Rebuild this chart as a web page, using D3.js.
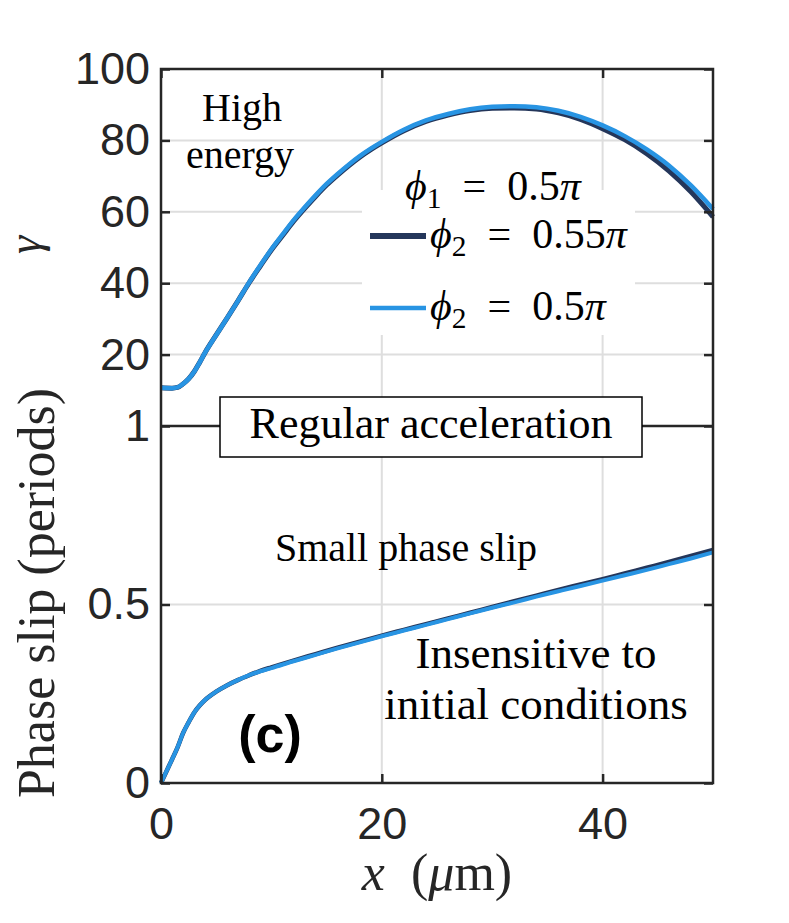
<!DOCTYPE html>
<html><head><meta charset="utf-8">
<script src="https://cdn.jsdelivr.net/npm/d3@7"></script>
<style>body{margin:0;background:#fff}</style></head>
<body><svg id="c" width="789" height="923"></svg>
<script>
// ---- data ----
const gammaX = [0,1,1.5,2,2.5,3,3.5,4,5,6,7,8,9,10,11,12,13,14,15,16,17,18,19,20,22,24,26,28,30,32,34,36,38,40,42,44,46,48,50];
const gammaLight = [10.7,10.6,10.8,11.8,13.2,15.2,17.8,20.6,25.5,30.3,35.2,40.3,45,49.5,53.6,57.6,61.2,64.6,67.8,70.6,73.2,75.6,77.7,79.6,83,85.6,87.4,88.7,89.4,89.6,89.3,88.3,86.6,84.2,81.2,77.5,73,67.4,60.8];
const gammaDark  = [10.7,10.6,10.8,11.8,13.2,15.2,17.8,20.6,25.5,30.3,35.2,40.2,44.8,49.3,53.3,57.3,60.9,64.3,67.5,70.3,72.9,75.3,77.4,79.3,82.7,85.3,87.1,88.4,89.0,89.1,88.8,87.7,85.9,83.3,80.2,76.3,71.5,65.6,58.6];
const slipX = [0,0.5,1,1.5,2,2.5,3,3.5,4,5,6,7,8,9,10,12,14,16,18,20,22,24,26,28,30,32,34,36,38,40,42,44,46,48,50];
const slipLight = [0,0.033,0.066,0.1,0.14,0.17,0.197,0.217,0.233,0.256,0.274,0.289,0.302,0.313,0.322,0.341,0.359,0.377,0.394,0.411,0.427,0.443,0.459,0.475,0.491,0.506,0.522,0.537,0.552,0.567,0.582,0.597,0.613,0.629,0.646];
const slipDark  = [0,0.033,0.066,0.1,0.14,0.17,0.197,0.217,0.233,0.256,0.274,0.289,0.302,0.314,0.324,0.343,0.361,0.379,0.396,0.413,0.429,0.445,0.461,0.477,0.493,0.509,0.525,0.541,0.556,0.571,0.587,0.603,0.619,0.636,0.653];
const xTicks = [0,20,40];
const gammaTicks = [20,40,60,80,100];
const slipTicks = [0,0.5,1];
const xGrid = [20,40];
const gammaGrid = [20,40,60,80];
const slipGrid = [0.5];

// ---- layout ----
const svg = d3.select('#c');
const x = d3.scaleLinear([0,50],[161,713]);
const yTop = d3.scaleLinear([0,100],[426,69]);
const yBot = d3.scaleLinear([0,1],[783,426]);
const AX = '#262626', GRID = '#dedede', DARK = '#24365a', LIGHT = '#2894e3';
const SERIF = '"Liberation Serif","Times New Roman",serif';
const SANS = '"Liberation Sans",Arial,Helvetica,sans-serif';

// grids
const g = svg.append('g');
xGrid.forEach(v=>{
  g.append('line').attr('x1',x(v)).attr('x2',x(v)).attr('y1',yTop(100)).attr('y2',yBot(0)).attr('stroke',GRID).attr('stroke-width',2);
});
gammaGrid.forEach(v=>{
  g.append('line').attr('x1',x(0)).attr('x2',x(50)).attr('y1',yTop(v)).attr('y2',yTop(v)).attr('stroke',GRID).attr('stroke-width',2);
});
slipGrid.forEach(v=>{
  g.append('line').attr('x1',x(0)).attr('x2',x(50)).attr('y1',yBot(v)).attr('y2',yBot(v)).attr('stroke',GRID).attr('stroke-width',2);
});

// legend background (covers grid)
svg.append('rect').attr('x',362).attr('y',190).attr('width',273).attr('height',145).attr('fill','#fff');

// curves
const lineTop = d3.line().x((d,i)=>x(gammaX[i])).y(d=>yTop(d)).curve(d3.curveMonotoneX);
const lineBot = d3.line().x((d,i)=>x(slipX[i])).y(d=>yBot(d)).curve(d3.curveMonotoneX);
svg.append('path').attr('d',lineTop(gammaDark)).attr('fill','none').attr('stroke',DARK).attr('stroke-width',5);
svg.append('path').attr('d',lineTop(gammaLight)).attr('fill','none').attr('stroke',LIGHT).attr('stroke-width',4.5);
svg.append('path').attr('d',lineBot(slipDark)).attr('fill','none').attr('stroke',DARK).attr('stroke-width',4.5);
svg.append('path').attr('d',lineBot(slipLight)).attr('fill','none').attr('stroke',LIGHT).attr('stroke-width',4);

// axes
function styleAxis(sel){
  sel.select('.domain').remove();
  sel.selectAll('line').attr('stroke',AX).attr('stroke-width',2.5);
  sel.selectAll('text').attr('fill',AX).attr('font-family',SANS).attr('font-size',45);
}
svg.append('g').attr('transform',`translate(${x(0)},0)`)
  .call(d3.axisLeft(yTop).tickValues(gammaTicks).tickSizeInner(-9).tickSizeOuter(0).tickPadding(11)).call(styleAxis);
svg.append('g').attr('transform',`translate(${x(0)},0)`)
  .call(d3.axisLeft(yBot).tickValues(slipTicks).tickFormat(d3.format('~g')).tickSizeInner(-9).tickSizeOuter(0).tickPadding(11)).call(styleAxis);
svg.append('g').attr('transform',`translate(${x(50)},0)`)
  .call(d3.axisRight(yTop).tickValues(gammaTicks).tickSizeInner(-9).tickSizeOuter(0).tickFormat('')).call(styleAxis);
svg.append('g').attr('transform',`translate(${x(50)},0)`)
  .call(d3.axisRight(yBot).tickValues(slipTicks).tickSizeInner(-9).tickSizeOuter(0).tickFormat('')).call(styleAxis);
svg.append('g').attr('transform',`translate(0,${yBot(0)})`)
  .call(d3.axisBottom(x).tickValues(xTicks).tickSizeInner(-9).tickSizeOuter(0).tickPadding(24)).call(styleAxis);
svg.append('g').attr('transform',`translate(0,${yTop(100)})`)
  .call(d3.axisTop(x).tickValues(xTicks).tickSizeInner(-9).tickSizeOuter(0).tickFormat('')).call(styleAxis);

// frame
const fr = svg.append('g').attr('fill','none').attr('stroke',AX).attr('stroke-width',2.5);
fr.append('rect').attr('x',x(0)).attr('y',yTop(100)).attr('width',x(50)-x(0)).attr('height',yBot(0)-yTop(100));
fr.append('line').attr('x1',x(0)).attr('x2',x(50)).attr('y1',yBot(1)).attr('y2',yBot(1));

// text helpers
function txt(s,xx,yy,size,opts={}){
  const t = svg.append('text').attr('x',xx).attr('y',yy).attr('font-family',opts.family||SERIF)
    .attr('font-size',size).attr('fill','#000').attr('text-anchor',opts.anchor||'middle').text(s);
  if(opts.weight) t.attr('font-weight',opts.weight);
  return t;
}
function mathLabel(xx,yy,size,sub,val,anchor){
  const t = svg.append('text').attr('x',xx).attr('y',yy).attr('font-family',SERIF).attr('font-size',size).attr('fill','#000').attr('text-anchor',anchor||'start');
  t.append('tspan').attr('font-style','italic').text('\u03D5');
  t.append('tspan').attr('font-size',size*0.7).attr('dy',size*0.18).text(sub);
  t.append('tspan').attr('dy',-size*0.18).text('\u2002=\u2002'+val);
  t.append('tspan').attr('font-style','italic').text('\u03C0');
  return t;
}

txt('High',242,121,40);
txt('energy',240,168,40);
mathLabel(405,200,42,'1','0.5');
svg.append('line').attr('x1',370).attr('x2',426).attr('y1',236).attr('y2',236).attr('stroke',DARK).attr('stroke-width',6);
mathLabel(430,248,42,'2','0.55');
svg.append('line').attr('x1',370).attr('x2',426).attr('y1',308).attr('y2',308).attr('stroke',LIGHT).attr('stroke-width',4.5);
mathLabel(430,320,42,'2','0.5');

svg.append('rect').attr('x',220).attr('y',397).attr('width',422).attr('height',60).attr('fill','#fff').attr('stroke','#000').attr('stroke-width',1.5);
txt('Regular acceleration',431,438,44);
txt('Small phase slip',406,561,40);
txt('Insensitive to',536,668,45);
txt('initial conditions',536,719,45);
txt('(c)',270,752,52,{family:SANS,weight:'bold'});

// axis labels
svg.append('text').attr('transform','translate(40,245) rotate(-90)').attr('text-anchor','middle')
  .attr('font-family',SERIF).attr('font-style','italic').attr('font-size',46).attr('fill','#262626').text('\u03B3');
svg.append('text').attr('transform','translate(54,593) rotate(-90)').attr('text-anchor','middle')
  .attr('font-family',SERIF).attr('font-size',52).attr('fill','#262626').text('Phase slip (periods)');
const xl = svg.append('text').attr('x',437).attr('y',890).attr('text-anchor','middle')
  .attr('font-family',SERIF).attr('font-size',52).attr('fill','#262626');
xl.append('tspan').attr('font-style','italic').text('x');
xl.append('tspan').text('\u2002(');
xl.append('tspan').attr('font-style','italic').text('\u03BC');
xl.append('tspan').text('m)');
</script></body></html>
